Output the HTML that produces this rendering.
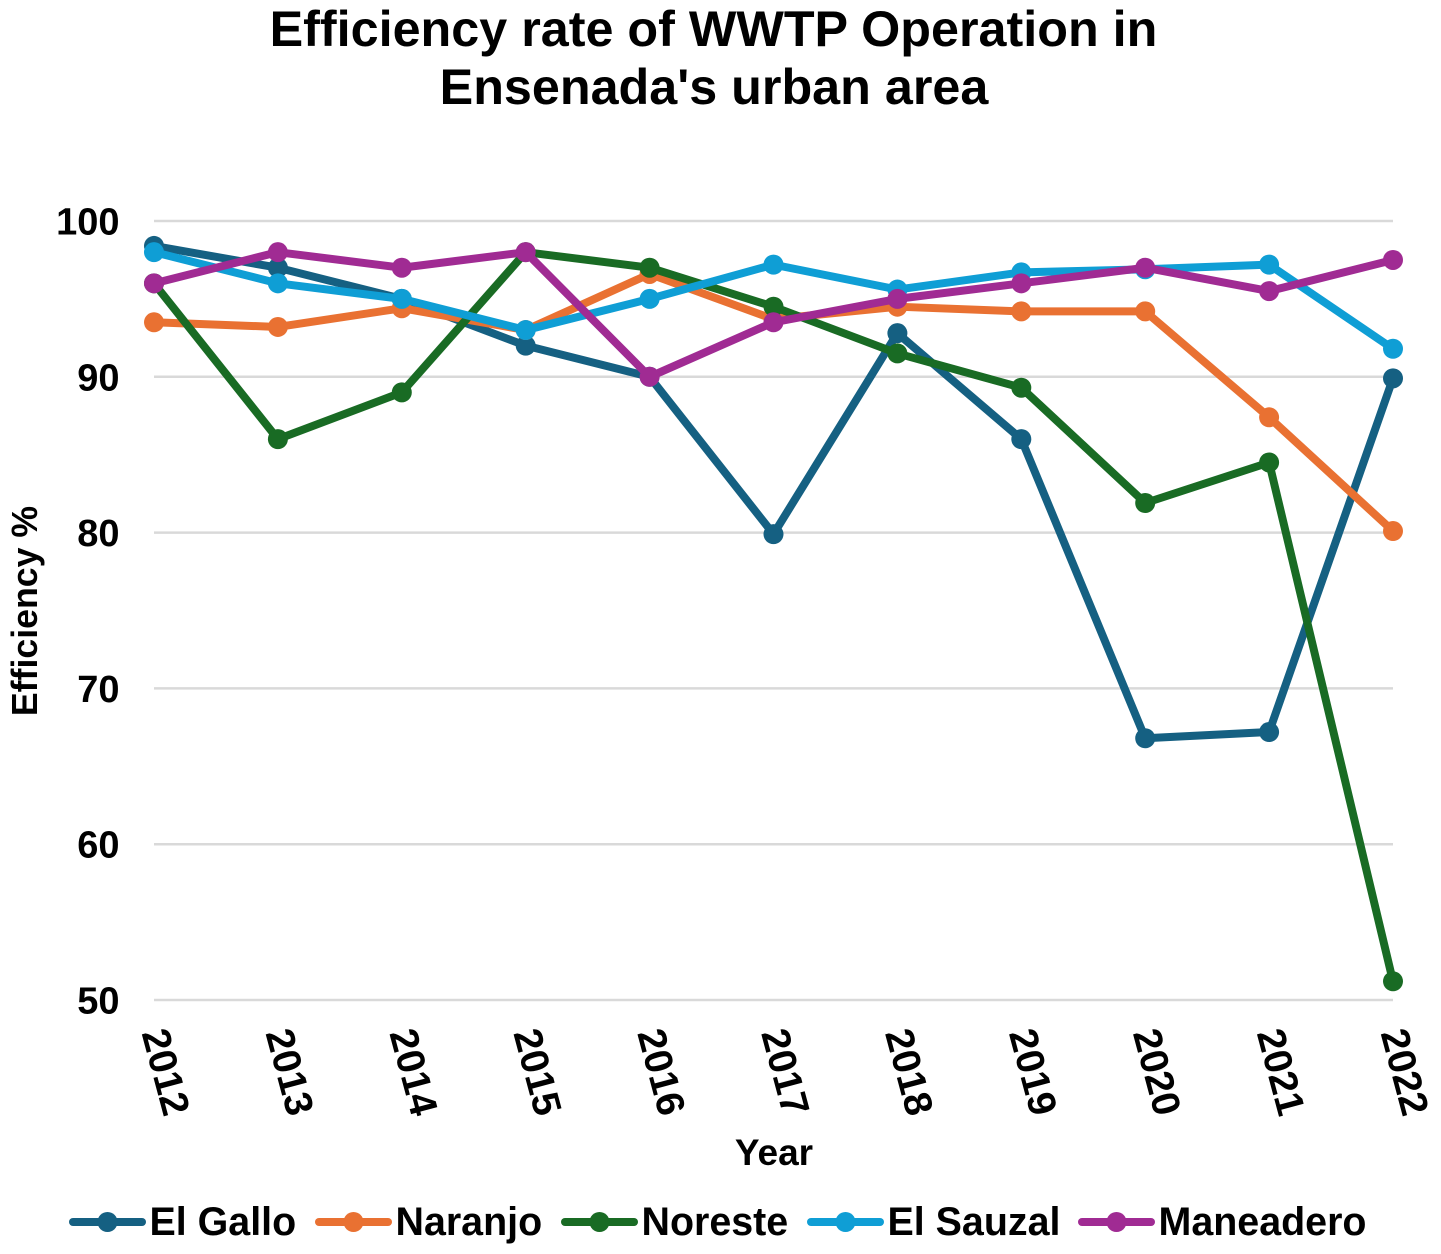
<!DOCTYPE html>
<html lang="en">
<head>
<meta charset="utf-8">
<title>Efficiency rate of WWTP Operation</title>
<style>
html,body{margin:0;padding:0;background:#fff;}
svg{display:block;}
text{font-family:"Liberation Sans",Arial,sans-serif;font-weight:700;fill:#000;}
</style>
</head>
<body>
<svg id="chart" width="1441" height="1254" viewBox="0 0 1441 1254" xmlns="http://www.w3.org/2000/svg">
  <text x="713.5" y="46" font-size="50.3" text-anchor="middle">Efficiency rate of WWTP Operation in</text>
  <text x="714" y="104" font-size="50.3" text-anchor="middle">Ensenada's urban area</text>
  <g id="grid"></g>
  <g id="yticks"></g>
  <g id="xticks"></g>
  <text transform="translate(37,611) rotate(-90)" font-size="35.7" text-anchor="middle">Efficiency %</text>
  <text x="774" y="1165" font-size="37" text-anchor="middle">Year</text>
  <g id="series"></g>
  <g id="legend"></g>
</svg>
<script>
const years = [2012,2013,2014,2015,2016,2017,2018,2019,2020,2021,2022];
const yTickValues = [50,60,70,80,90,100];
const elGallo = [98.4,97,95,92,90,79.9,92.8,86,66.8,67.2,89.9];
const naranjo = [93.5,93.2,94.4,93,96.6,93.7,94.5,94.2,94.2,87.4,80.1];
const noreste = [96,86,89,98,97,94.5,91.5,89.3,81.9,84.5,51.2];
const elSauzal = [98,96,95,93,95,97.2,95.6,96.7,96.9,97.2,91.8];
const maneadero = [96,98,97,98,90,93.5,95,96,97,95.5,97.5];
const seriesNames = ["El Gallo","Naranjo","Noreste","El Sauzal","Maneadero"];
const seriesColors = ["#156082","#E97132","#196B24","#0F9ED5","#A02B93"];
const seriesValues = [elGallo,naranjo,noreste,elSauzal,maneadero];

const NS = "http://www.w3.org/2000/svg";
const xStart = 154, xStep = 123.9;
const yTop = 221, yBottom = 1000, yMin = 50, yMax = 100;
function xScale(i){ return xStart + i * xStep; }
function yScale(v){ return yBottom - (v - yMin) / (yMax - yMin) * (yBottom - yTop); }
function make(tag, attrs, parent){
  const el = document.createElementNS(NS, tag);
  for (const k in attrs) el.setAttribute(k, attrs[k]);
  parent.appendChild(el);
  return el;
}
const grid = document.getElementById("grid");
const yticks = document.getElementById("yticks");
const xticks = document.getElementById("xticks");
const seriesG = document.getElementById("series");
const legend = document.getElementById("legend");

yTickValues.forEach(function(v){
  const line = make("line", {x1:xScale(0), x2:xScale(years.length-1), y1:yScale(v), y2:yScale(v), stroke:"#d9d9d9", "stroke-width":2.5}, grid);
  
  
  const t = make("text", {x:119.5, y:yScale(v)+13.5, "font-size":38, "text-anchor":"end"}, yticks);
  
  
  t.textContent = v;
});
years.forEach(function(y, i){
  const px = xScale(i) - 12.5, py = 1033;
  const t = make("text", {transform:"translate("+px+","+py+") rotate(75)", "font-size":39.5}, xticks);
  
  
  t.textContent = y;
});
seriesValues.forEach(function(vals, s){
  const g = make("g", {}, seriesG);
  
  
  const pts = vals.map(function(v, i){ return xScale(i) + "," + yScale(v); }).join(" ");
  make("polyline", {points:pts, fill:"none", stroke:seriesColors[s], "stroke-width":8, "stroke-linejoin":"round", "stroke-linecap":"round"}, g);
  vals.forEach(function(v, i){
    const c = make("circle", {cx:xScale(i), cy:yScale(v), r:10, fill:seriesColors[s]}, g);
    
    
  });
});
const legendLineStart = [73,319,565,811,1082];
seriesNames.forEach(function(name, s){
  const g = make("g", {}, legend);
  
  
  const x0 = legendLineStart[s];
  make("line", {x1:x0, x2:x0+69, y1:1222, y2:1222, stroke:seriesColors[s], "stroke-width":8, "stroke-linecap":"round"}, g);
  make("circle", {cx:x0+34.5, cy:1222, r:10, fill:seriesColors[s]}, g);
  const t = make("text", {x:x0+76.5, y:1235, "font-size":39.4}, g);
  t.textContent = name;
});
</script>
</body>
</html>
